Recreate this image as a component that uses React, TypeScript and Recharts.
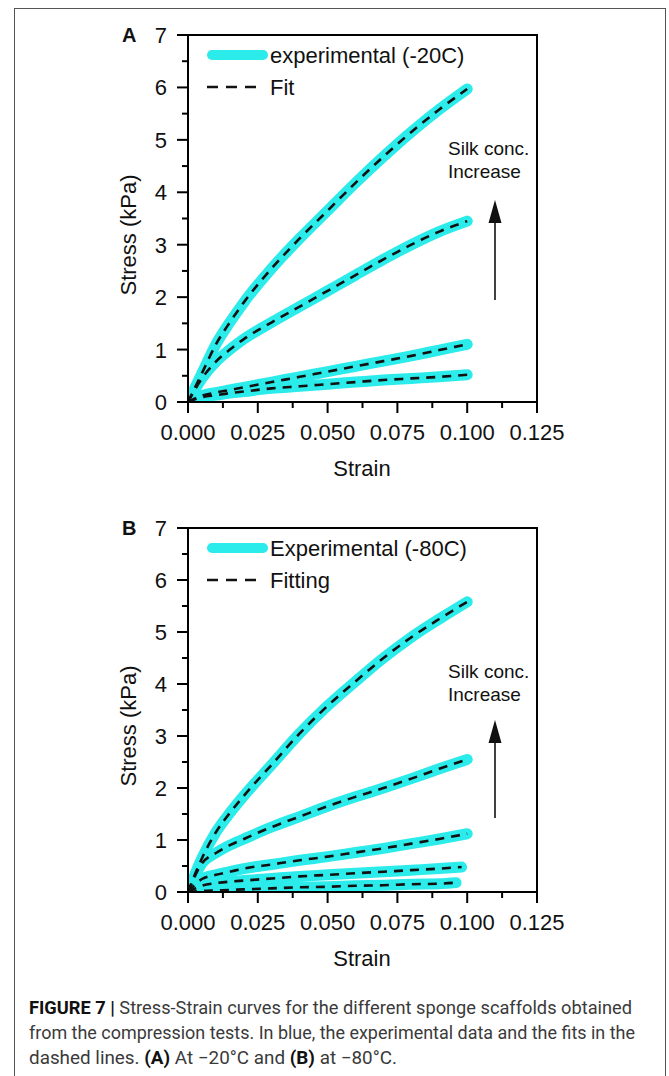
import React from "react";
import { LineChart, Line, XAxis, YAxis, ReferenceArea } from "recharts";

// strain points (x) and stress values (kPa)
const strain = [0, 0.005, 0.01, 0.015, 0.02, 0.03, 0.04, 0.05, 0.06, 0.07, 0.08, 0.09, 0.1];
const strainB4 = [0, 0.005, 0.01, 0.015, 0.02, 0.03, 0.04, 0.05, 0.06, 0.07, 0.08, 0.09, 0.098];
const strainB5 = [0, 0.005, 0.01, 0.015, 0.02, 0.03, 0.04, 0.05, 0.06, 0.07, 0.08, 0.09, 0.096];

const stressA1 = [0, 0.55, 1.1, 1.52, 1.9, 2.55, 3.12, 3.65, 4.18, 4.68, 5.15, 5.58, 5.97];
const stressA2 = [0, 0.45, 0.77, 1.0, 1.2, 1.52, 1.82, 2.12, 2.42, 2.72, 3.0, 3.25, 3.45];
const stressA3 = [0, 0.12, 0.18, 0.23, 0.28, 0.38, 0.48, 0.58, 0.68, 0.78, 0.88, 0.99, 1.1];
const stressA4 = [0, 0.09, 0.13, 0.17, 0.2, 0.26, 0.3, 0.34, 0.38, 0.42, 0.45, 0.48, 0.52];

const stressB1 = [0, 0.65, 1.15, 1.52, 1.85, 2.45, 3.05, 3.58, 4.05, 4.5, 4.9, 5.25, 5.58];
const stressB2 = [0, 0.55, 0.75, 0.9, 1.02, 1.25, 1.45, 1.65, 1.83, 2.0, 2.18, 2.37, 2.55];
const stressB3 = [0, 0.25, 0.33, 0.39, 0.45, 0.53, 0.61, 0.68, 0.76, 0.84, 0.93, 1.02, 1.12];
const stressB4 = [0, 0.12, 0.17, 0.2, 0.22, 0.26, 0.3, 0.33, 0.36, 0.39, 0.42, 0.45, 0.48];
const stressB5 = [0, 0.02, 0.03, 0.04, 0.05, 0.07, 0.09, 0.1, 0.12, 0.13, 0.15, 0.16, 0.18];

const xTicks = [0, 0.0125, 0.025, 0.0375, 0.05, 0.0625, 0.075, 0.0875, 0.1, 0.1125, 0.125];
const yTicks = [0, 0.5, 1, 1.5, 2, 2.5, 3, 3.5, 4, 4.5, 5, 5.5, 6, 6.5, 7];

const FONT = "'Liberation Sans', Arial, sans-serif";
const CYAN = "#2CEBEB";

const rows = (xs: number[], ys: number[]) => xs.map((x, i) => ({ strain: x, stress: ys[i] }));

const isMajor = (v: number, step: number) => Math.abs(v / step - Math.round(v / step)) < 1e-6;

const XTick = (props: any) => {
  const { x, y, payload } = props;
  const v = payload.value;
  const major = isMajor(v, 0.025);
  return (
    <g>
      <line x1={x} x2={x} y1={y} y2={y + (major ? 11 : 6)} stroke="#000" strokeWidth={2} />
      {major && (
        <text x={x} y={y + 38} textAnchor="middle" fontSize={22} fill="#111" fontFamily={FONT}>
          {v.toFixed(3)}
        </text>
      )}
    </g>
  );
};

const YTick = (props: any) => {
  const { x, y, payload } = props;
  const v = payload.value;
  const major = isMajor(v, 1);
  return (
    <g>
      <line x1={x} x2={x - (major ? 11 : 6)} y1={y} y2={y} stroke="#000" strokeWidth={2} />
      {major && (
        <text x={x - 21} y={y + 8} textAnchor="end" fontSize={22} fill="#111" fontFamily={FONT}>
          {v}
        </text>
      )}
    </g>
  );
};

function Panel(props: { top: number; bottom: number; curves: { x: number[]; y: number[] }[] }) {
  return (
    <div style={{ position: "absolute", left: 0, top: props.top }}>
      <LineChart width={669} height={500} margin={{ top: 35, right: 132, left: 148, bottom: props.bottom }}>
        <XAxis
          dataKey="strain"
          type="number"
          domain={[0, 0.125]}
          ticks={xTicks}
          interval={0}
          allowDataOverflow
          height={60}
          tickSize={0}
          tickMargin={0}
          tickLine={false}
          tick={<XTick />}
          axisLine={{ stroke: "#000", strokeWidth: 2 }}
        />
        <YAxis
          type="number"
          domain={[0, 7]}
          ticks={yTicks}
          interval={0}
          allowDataOverflow
          width={40}
          tickSize={0}
          tickMargin={0}
          tickLine={false}
          tick={<YTick />}
          axisLine={{ stroke: "#000", strokeWidth: 2 }}
        />
        <ReferenceArea x1={0} x2={0.125} y1={0} y2={7} fill="none" stroke="#000" strokeWidth={2} ifOverflow="visible" />
        {props.curves.map((c, i) => (
          <Line
            key={"e" + i}
            data={rows(c.x, c.y)}
            dataKey="stress"
            type="monotone"
            stroke={CYAN}
            strokeWidth={11}
            strokeLinecap="round"
            dot={false}
            activeDot={false}
            isAnimationActive={false}
          />
        ))}
        {props.curves.map((c, i) => (
          <Line
            key={"f" + i}
            data={rows(c.x, c.y)}
            dataKey="stress"
            type="monotone"
            stroke="#111"
            strokeWidth={2.6}
            strokeDasharray="9 7"
            dot={false}
            activeDot={false}
            isAnimationActive={false}
          />
        ))}
      </LineChart>
    </div>
  );
}

function Annotations(props: { dy: number; letter: string; exp: string; fit: string; arrowTop: number; arrowBottom: number; silkY: number }) {
  const { dy } = props;
  return (
    <g fontFamily={FONT}>
      <text x={122} y={dy + 42} fontSize={20} fontWeight="bold" fill="#111">{props.letter}</text>
      <line x1={212} x2={263} y1={dy + 55} y2={dy + 55} stroke={CYAN} strokeWidth={10} strokeLinecap="round" />
      <text x={270} y={dy + 63} fontSize={22} fill="#111">{props.exp}</text>
      <line x1={207} x2={264} y1={dy + 87} y2={dy + 87} stroke="#111" strokeWidth={2.6} strokeDasharray="11 8" />
      <text x={270} y={dy + 95} fontSize={22} fill="#111">{props.fit}</text>
      <text x={448} y={props.silkY} fontSize={19} fill="#111">Silk conc.</text>
      <text x={448} y={props.silkY + 23} fontSize={19} fill="#111">Increase</text>
      <line x1={495} x2={495} y1={props.arrowTop + 20} y2={props.arrowBottom} stroke="#111" strokeWidth={1.6} />
      <polygon
        points={`495,${props.arrowTop} 488.5,${props.arrowTop + 23} 501.5,${props.arrowTop + 23}`}
        fill="#111"
      />
    </g>
  );
}

export default function App() {
  const curvesA = [
    { x: strain, y: stressA1 },
    { x: strain, y: stressA2 },
    { x: strain, y: stressA3 },
    { x: strain, y: stressA4 },
  ];
  const curvesB = [
    { x: strain, y: stressB1 },
    { x: strain, y: stressB2 },
    { x: strain, y: stressB3 },
    { x: strainB4, y: stressB4 },
    { x: strainB5, y: stressB5 },
  ];
  return (
    <div style={{ position: "absolute", left: 0, top: 0, width: 669, height: 1076, background: "#fff", overflow: "hidden" }}>
      <Panel top={0} bottom={38} curves={curvesA} />
      <Panel top={493} bottom={41} curves={curvesB} />
      <svg width={669} height={1076} style={{ position: "absolute", left: 0, top: 0, pointerEvents: "none" }}>
        <rect x={14.5} y={8.5} width={651} height={1100} fill="none" stroke="#555" strokeWidth={1} />
        <Annotations dy={0} letter="A" exp="experimental (-20C)" fit="Fit" arrowTop={200} arrowBottom={300} silkY={155} />
        <Annotations dy={493} letter="B" exp="Experimental (-80C)" fit="Fitting" arrowTop={720} arrowBottom={818} silkY={678} />
        <text transform="translate(136,235) rotate(-90)" textAnchor="middle" fontSize={22} fill="#111" fontFamily={FONT}>
          Stress (kPa)
        </text>
        <text transform="translate(136,726) rotate(-90)" textAnchor="middle" fontSize={22} fill="#111" fontFamily={FONT}>
          Stress (kPa)
        </text>
        <text x={362} y={476} textAnchor="middle" fontSize={22} fill="#111" fontFamily={FONT}>Strain</text>
        <text x={362} y={966} textAnchor="middle" fontSize={22} fill="#111" fontFamily={FONT}>Strain</text>
        <g fontFamily="'Liberation Sans Narrow', 'Arial Narrow', Roboto, sans-serif" fontSize={18} fill="#3a3a3a">
          <text x={29} y={1014} textLength={603} lengthAdjust="spacingAndGlyphs">
            <tspan fontWeight="bold" fill="#111">FIGURE 7 |</tspan> Stress-Strain curves for the different sponge scaffolds obtained
          </text>
          <text x={29} y={1039} textLength={606} lengthAdjust="spacingAndGlyphs">
            from the compression tests. In blue, the experimental data and the fits in the
          </text>
          <text x={29} y={1064} textLength={368} lengthAdjust="spacingAndGlyphs">
            dashed lines. <tspan fontWeight="bold" fill="#111">(A)</tspan> At −20°C and <tspan fontWeight="bold" fill="#111">(B)</tspan> at −80°C.
          </text>
        </g>
      </svg>
    </div>
  );
}
